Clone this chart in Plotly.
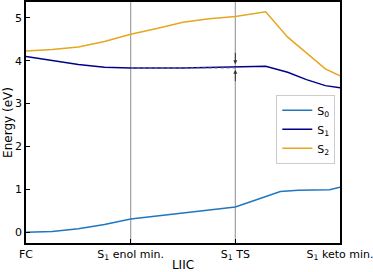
import plotly.graph_objects as go

x_s0 = [0, 0.25, 0.5, 0.75, 1, 1.25, 1.5, 1.75, 2, 2.25, 2.43, 2.6, 2.75, 2.9, 3]
s0 = [0, 0.02, 0.08, 0.18, 0.31, 0.38, 0.44, 0.51, 0.59, 0.80, 0.95, 0.98, 0.98, 0.99, 1.05]

x_s1 = [0, 0.25, 0.5, 0.75, 1, 1.5, 2, 2.29, 2.5, 2.68, 2.86, 3]
s1 = [4.10, 4.00, 3.91, 3.85, 3.83, 3.83, 3.86, 3.87, 3.73, 3.56, 3.42, 3.37]

x_s2 = [0, 0.25, 0.5, 0.75, 1, 1.25, 1.5, 1.75, 2, 2.29, 2.5, 2.73, 2.86, 3]
s2 = [4.23, 4.26, 4.32, 4.45, 4.62, 4.75, 4.90, 4.98, 5.03, 5.14, 4.55, 4.07, 3.81, 3.65]

tick_vals = [0, 1, 2, 3]
tick_text = ["FC", "S<sub>1</sub> enol min.", "S<sub>1</sub> TS", "S<sub>1</sub> keto min."]

fig = go.Figure()
fig.add_trace(go.Scatter(x=x_s0, y=s0, mode="lines", name="S<sub>0</sub>",
                         line=dict(color="#1f77c0", width=1.5)))
fig.add_trace(go.Scatter(x=x_s1, y=s1, mode="lines", name="S<sub>1</sub>",
                         line=dict(color="#00008b", width=1.5)))
fig.add_trace(go.Scatter(x=x_s2, y=s2, mode="lines", name="S<sub>2</sub>",
                         line=dict(color="#e6a61e", width=1.5)))

for xv in [1, 2]:
    fig.add_shape(type="line", x0=xv, x1=xv, y0=0, y1=1, xref="x", yref="paper",
                  line=dict(color="#a0a0a0", width=1.2), layer="below")

fig.add_shape(type="line", x0=1, x1=2, y0=3.83, y1=3.83, xref="x", yref="y",
              line=dict(color="#808080", width=1, dash="dot"))

fig.add_annotation(x=2, y=3.92, ax=2, ay=4.22, xref="x", yref="y", axref="x", ayref="y",
                   showarrow=True, arrowhead=2, arrowsize=0.8, arrowwidth=1, arrowcolor="#333333", text="")
fig.add_annotation(x=2, y=3.79, ax=2, ay=3.49, xref="x", yref="y", axref="x", ayref="y",
                   showarrow=True, arrowhead=2, arrowsize=0.8, arrowwidth=1, arrowcolor="#333333", text="")

fig.update_layout(
    width=373, height=272,
    margin=dict(l=26, r=33, t=2, b=29),
    paper_bgcolor="white", plot_bgcolor="white",
    font=dict(family="DejaVu Sans", size=11, color="black"),
    legend=dict(x=0.985, y=0.615, xanchor="right", yanchor="top",
                bgcolor="white", bordercolor="#cccccc", borderwidth=1,
                font=dict(size=11), tracegroupgap=0, itemwidth=30),
    showlegend=True,
)
fig.update_xaxes(range=[0, 3], tickvals=tick_vals, ticktext=tick_text, automargin=False,
                 ticklabeloverflow="allow",
                 showline=True, linecolor="black", linewidth=1.5, mirror=True,
                 ticks="inside", ticklen=4, tickcolor="black", showgrid=False, zeroline=False,
                 title=dict(text="LIIC", font=dict(size=12), standoff=0))
fig.update_yaxes(range=[-0.25, 5.37], tickvals=[0, 1, 2, 3, 4, 5], automargin=False,
                 ticklabeloverflow="allow",
                 showline=True, linecolor="black", linewidth=1.5, mirror=True,
                 ticks="inside", ticklen=4, tickcolor="black", showgrid=False, zeroline=False,
                 title=dict(text="Energy (eV)", font=dict(size=12), standoff=0))

fig.write_html("out.html", config={"displayModeBar": False},
               post_script="document.body.style.margin='0';")
